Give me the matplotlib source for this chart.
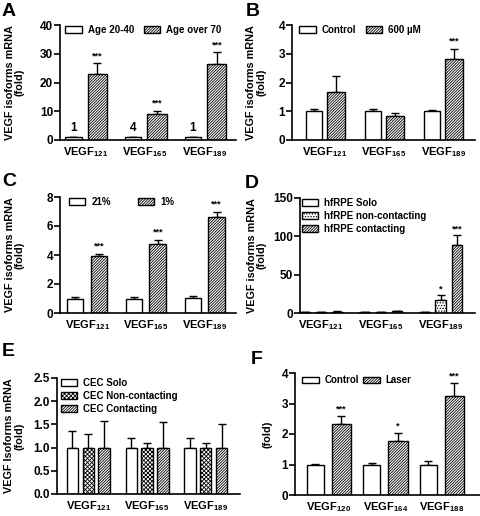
import numpy as np
import matplotlib

matplotlib.use("Agg")
import matplotlib.pyplot as plt
from matplotlib.patches import Patch

plt.rcParams["font.family"] = ["Liberation Sans", "DejaVu Sans"]
plt.rcParams["font.weight"] = "bold"
plt.rcParams["axes.labelweight"] = "bold"
plt.rcParams["mathtext.fontset"] = "custom"
plt.rcParams["mathtext.rm"] = "Liberation Sans:bold"
plt.rcParams["mathtext.bf"] = "Liberation Sans:bold"
plt.rcParams["hatch.linewidth"] = 0.6

iso_a = ["121", "165", "189"]
iso_f = ["120", "164", "188"]

# A: age
a_young = [1.0, 1.0, 1.0]
a_young_err = [0.2, 0.2, 0.2]
a_old = [23.0, 9.2, 26.5]
a_old_err = [3.7, 1.0, 4.1]
a_counts = ["1", "4", "1"]

# B: 600 uM
b_ctrl = [1.0, 1.0, 1.0]
b_ctrl_err = [0.07, 0.07, 0.06]
b_trt = [1.68, 0.82, 2.83]
b_trt_err = [0.54, 0.13, 0.35]

# C: oxygen
c_21 = [1.0, 1.0, 1.02]
c_21_err = [0.12, 0.10, 0.16]
c_1 = [3.9, 4.75, 6.6]
c_1_err = [0.2, 0.3, 0.38]

# D: hfRPE
d_solo = [1.0, 1.0, 1.0]
d_solo_err = [0.3, 0.3, 0.3]
d_nonc = [1.3, 1.3, 17.0]
d_nonc_err = [0.4, 0.4, 6.5]
d_cont = [1.8, 2.0, 89.0]
d_cont_err = [0.6, 0.6, 13.0]

# E: CEC
e_solo = [1.0, 1.0, 1.0]
e_solo_err = [0.35, 0.21, 0.21]
e_nonc = [1.0, 1.0, 1.0]
e_nonc_err = [0.30, 0.10, 0.10]
e_cont = [1.0, 1.0, 1.0]
e_cont_err = [0.58, 0.55, 0.50]

# F: laser
f_ctrl = [1.0, 1.0, 1.0]
f_ctrl_err = [0.03, 0.06, 0.13]
f_laser = [2.33, 1.78, 3.23]
f_laser_err = [0.27, 0.24, 0.45]

W, H = 481, 516
fig = plt.figure(figsize=(W / 100, H / 100), dpi=100)


def px_axes(l, t, r, b):
    return fig.add_axes([l / W, 1 - b / H, (r - l) / W, (b - t) / H])


HATCH = "/" * 12
STYLES = {
    "white": None,
    "hatch": HATCH,
    "dots": "......",
    "cross": "xxxxxxxx",
}


def bars(ax, x, vals, errs, style, width):
    ax.bar(x, vals, width, color="white", edgecolor="black",
           hatch=STYLES[style], linewidth=1.0, zorder=2)
    ax.errorbar(x, vals, yerr=[np.zeros(len(vals)), errs], fmt="none",
                ecolor="black", elinewidth=1.0, capsize=3, capthick=1.0, zorder=1)


def stars(ax, x, vals, errs, marks, pad):
    for xi, v, e, m in zip(x, vals, errs, marks):
        if m:
            ax.text(xi, v + e + pad, m, ha="center", va="bottom", fontsize=6.5)


def style_ax(ax, ylim, yticks, xlim, iso, ylabel, labx, fmt="{:g}"):
    ax.set_xlim(*xlim)
    ax.set_ylim(*ylim)
    ax.set_yticks(yticks)
    ax.set_yticklabels([fmt.format(t) for t in yticks])
    ax.set_xticks(range(3))
    ax.set_xticklabels([r"$\mathbf{VEGF}_{\mathbf{%s}}$" % s for s in iso])
    ax.spines["top"].set_visible(False)
    ax.spines["right"].set_visible(False)
    ax.spines["left"].set_linewidth(1.2)
    ax.spines["bottom"].set_linewidth(1.2)
    ax.tick_params(axis="y", direction="out", length=4, width=1.2, labelsize=8.5, pad=1)
    ax.tick_params(axis="x", length=0, labelsize=8, pad=4)
    ax.set_ylabel(ylabel, fontsize=7.8, linespacing=1.0)
    ax.yaxis.set_label_coords(labx, 0.5)


def legend(ax, labels, styles, ncol, anchor, colsp=1.0):
    handles = [Patch(facecolor="white", edgecolor="black", hatch=STYLES[s],
                     linewidth=1.0, label=l) for l, s in zip(labels, styles)]
    ax.legend(handles=handles, loc="upper left", bbox_to_anchor=anchor, ncol=ncol,
              frameon=False, fontsize=7, handlelength=1.7, handleheight=0.65,
              handletextpad=0.6, columnspacing=colsp, labelspacing=0.3,
              borderaxespad=0, borderpad=0)


x = np.arange(3)
YL = "VEGF isoforms mRNA\n(fold)"

# A
ax = px_axes(60, 25, 236, 140)
bars(ax, x - 0.2, a_young, a_young_err, "white", 0.28)
bars(ax, x + 0.2, a_old, a_old_err, "hatch", 0.32)
stars(ax, x + 0.2, a_old, a_old_err, ["***"] * 3, 1.0)
for xi, c in zip(x - 0.2, a_counts):
    ax.text(xi, 2.2, c, ha="center", va="bottom", fontsize=8.5)
style_ax(ax, (0, 40), [0, 10, 20, 30, 40], (-0.42, 2.52), iso_a, YL, -0.2)
legend(ax, ["Age 20-40", "Age over 70"], ["white", "hatch"], 2, (0.03, 1.0), colsp=1.0)

# B
ax = px_axes(292, 25, 475, 140)
bars(ax, x - 0.19, b_ctrl, b_ctrl_err, "white", 0.28)
bars(ax, x + 0.19, b_trt, b_trt_err, "hatch", 0.3)
stars(ax, x + 0.19, b_trt, b_trt_err, ["", "", "***"], 0.1)
style_ax(ax, (0, 4), [0, 1, 2, 3, 4], (-0.56, 2.54), iso_a, YL, -0.14)
legend(ax, ["Control", "600 \u00b5M"], ["white", "hatch"], 2, (0.04, 1.0), colsp=1.0)

# C
ax = px_axes(60, 197, 236, 313)
bars(ax, x - 0.2, c_21, c_21_err, "white", 0.27)
bars(ax, x + 0.2, c_1, c_1_err, "hatch", 0.28)
stars(ax, x + 0.2, c_1, c_1_err, ["***"] * 3, 0.2)
style_ax(ax, (0, 8), [0, 2, 4, 6, 8], (-0.46, 2.53), iso_a, YL, -0.2)
legend(ax, ["21%", "1%"], ["white", "hatch"], 2, (0.05, 1.0), colsp=2.8)

# D
ax = px_axes(300, 198, 475, 313)
bars(ax, x - 0.27, d_solo, d_solo_err, "white", 0.18)
bars(ax, x, d_nonc, d_nonc_err, "dots", 0.18)
bars(ax, x + 0.27, d_cont, d_cont_err, "hatch", 0.18)
stars(ax, x, d_nonc, d_nonc_err, ["", "", "*"], 2)
stars(ax, x + 0.27, d_cont, d_cont_err, ["", "", "***"], 2)
style_ax(ax, (0, 150), [0, 50, 100, 150], (-0.35, 2.57), iso_a, YL, -0.19)
legend(ax, ["hfRPE Solo", "hfRPE non-contacting", "hfRPE contacting"],
       ["white", "dots", "hatch"], 1, (0.01, 1.0))

# E
ax = px_axes(57, 378, 240, 494)
bars(ax, x - 0.27, e_solo, e_solo_err, "white", 0.19)
bars(ax, x, e_nonc, e_nonc_err, "cross", 0.19)
bars(ax, x + 0.27, e_cont, e_cont_err, "hatch", 0.19)
style_ax(ax, (0, 2.5), [0, 0.5, 1.0, 1.5, 2.0, 2.5], (-0.53, 2.58), iso_a,
         "VEGF Isoforms mRNA\n(fold)", -0.18, fmt="{:.1f}")
legend(ax, ["CEC Solo", "CEC Non-contacting", "CEC Contacting"],
       ["white", "cross", "hatch"], 1, (0.02, 1.0))

# F
ax = px_axes(295, 373, 481, 495)
bars(ax, x - 0.24, f_ctrl, f_ctrl_err, "white", 0.3)
bars(ax, x + 0.22, f_laser, f_laser_err, "hatch", 0.34)
stars(ax, x + 0.22, f_laser, f_laser_err, ["***", "*", "***"], 0.08)
style_ax(ax, (0, 4), [0, 1, 2, 3, 4], (-0.6, 2.69), iso_f, "(fold)", -0.12)
legend(ax, ["Control", "Laser"], ["white", "hatch"], 2, (0.04, 0.98), colsp=0.4)

for lbl, (px, py) in zip("ABCDEF", [(2, 3), (246, 3), (2, 173), (245, 175), (2, 343), (251, 351)]):
    fig.text(px / W, 1 - py / H, lbl, fontsize=14, fontweight="bold", va="top", ha="left")

fig.savefig("out.png", dpi=100)
